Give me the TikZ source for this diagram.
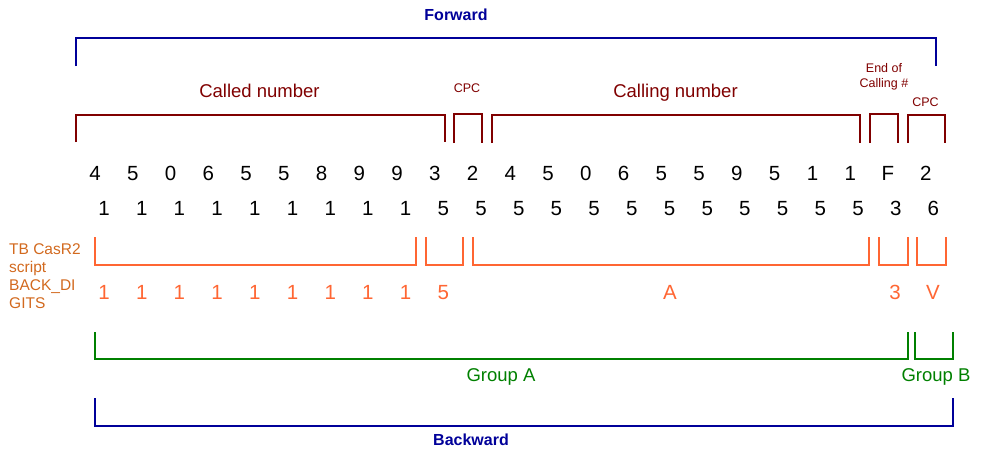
\documentclass[tikz,border=0pt]{standalone}
\usepackage{fontspec}
\setmainfont{Liberation Sans}
\usepackage{tikz}
\definecolor{dirblue}{RGB}{0,0,153}
\definecolor{numred}{RGB}{128,0,0}
\definecolor{casorange}{RGB}{255,102,51}
\definecolor{scriptbrown}{RGB}{210,105,30}
\definecolor{grpgreen}{RGB}{0,128,0}

\begin{document}
\begin{tikzpicture}[
    x=1pt, y=-1pt,
    dirline/.style={draw=dirblue, line width=1.8pt},
    numline/.style={draw=numred, line width=1.8pt},
    casline/.style={draw=casorange, line width=1.8pt},
    grpline/.style={draw=grpgreen, line width=1.8pt},
    dirlabel/.style={anchor=base, inner sep=0pt, text=dirblue, font=\fontsize{16}{19}\selectfont\bfseries},
    numlabel/.style={anchor=base, inner sep=0pt, text=numred, font=\fontsize{18.5}{22}\selectfont},
    cpclabel/.style={anchor=base, inner sep=0pt, text=numred, font=\fontsize{12.5}{15}\selectfont},
    digit/.style={anchor=base, inner sep=0pt, font=\fontsize{20.5}{24}\selectfont},
    casdigit/.style={digit, text=casorange},
    grplabel/.style={anchor=base, inner sep=0pt, text=grpgreen, font=\fontsize{18.5}{22}\selectfont}
]
    \useasboundingbox (0,0) rectangle (984,464);

    % Forward
    \node[dirlabel] (fwd) at (456, 20.7) {Forward};
    \draw[dirline] (76,66) |- (936,38) -- (936,66);

    % Called / calling number
    \node[numlabel] (called) at (259.5, 97) {Called number};
    \node[cpclabel] (cpc1) at (467, 92) {CPC};
    \node[numlabel] (calling) at (675.5, 97) {Calling number};
    \node[cpclabel, align=center] (endcalling) at (884, 87) {End of\\Calling \#};
    \node[cpclabel] (cpc2) at (925.5, 106) {CPC};
    \draw[numline] (76,142) |- (445,115) -- (445,142);
    \draw[numline] (454,143) |- (482,114) -- (482,143);
    \draw[numline] (492,143) |- (860,115) -- (860,143);
    \draw[numline] (870,143) |- (898,114) -- (898,143);
    \draw[numline] (908,143) |- (945,115) -- (945,143);

    % Forward digits
    \foreach \d [count=\i from 0] in {4,5,0,6,5,5,8,9,9,3,2,4,5,0,6,5,5,9,5,1,1,F,2}
        \node[digit] (fd\i) at ({95+37.76*\i}, 180) {\d};

    % Backward digits
    \foreach \d [count=\i from 0] in {1,1,1,1,1,1,1,1,1,5,5,5,5,5,5,5,5,5,5,5,5,3,6}
        \node[digit] (bd\i) at ({104+37.7*\i}, 215) {\d};

    % TB CasR2 script
    \node[anchor=base west, inner sep=0pt, align=left, text=scriptbrown,
          font=\fontsize{15.5}{18}\selectfont] (script) at (9, 308)
          {TB CasR2\\script\\BACK\_DI\\GITS};
    \draw[casline] (95,237) |- (416,265) -- (416,237);
    \draw[casline] (426,237) |- (463,265) -- (463,237);
    \draw[casline] (473,237) |- (869,265) -- (869,237);
    \draw[casline] (879,237) |- (908,265) -- (908,237);
    \draw[casline] (917,237) |- (946,265) -- (946,237);
    \foreach \d [count=\i from 0] in {1,1,1,1,1,1,1,1,1,5}
        \node[casdigit] (sd\i) at ({104+37.7*\i}, 299) {\d};
    \node[casdigit] (sdA) at (670, 299) {A};
    \node[casdigit] (sd3) at (895, 299) {3};
    \node[casdigit] (sdV) at (933, 299) {V};

    % Groups
    \draw[grpline] (95,332) |- (908,359) -- (908,332);
    \draw[grpline] (915,332) |- (953,359) -- (953,332);
    \node[grplabel] (grpA) at (501, 381) {Group A};
    \node[grplabel] (grpB) at (936, 381) {Group B};

    % Backward
    \draw[dirline] (95,398) |- (953,426) -- (953,398);
    \node[dirlabel] (bwd) at (471, 445.5) {Backward};
\end{tikzpicture}
\end{document}
